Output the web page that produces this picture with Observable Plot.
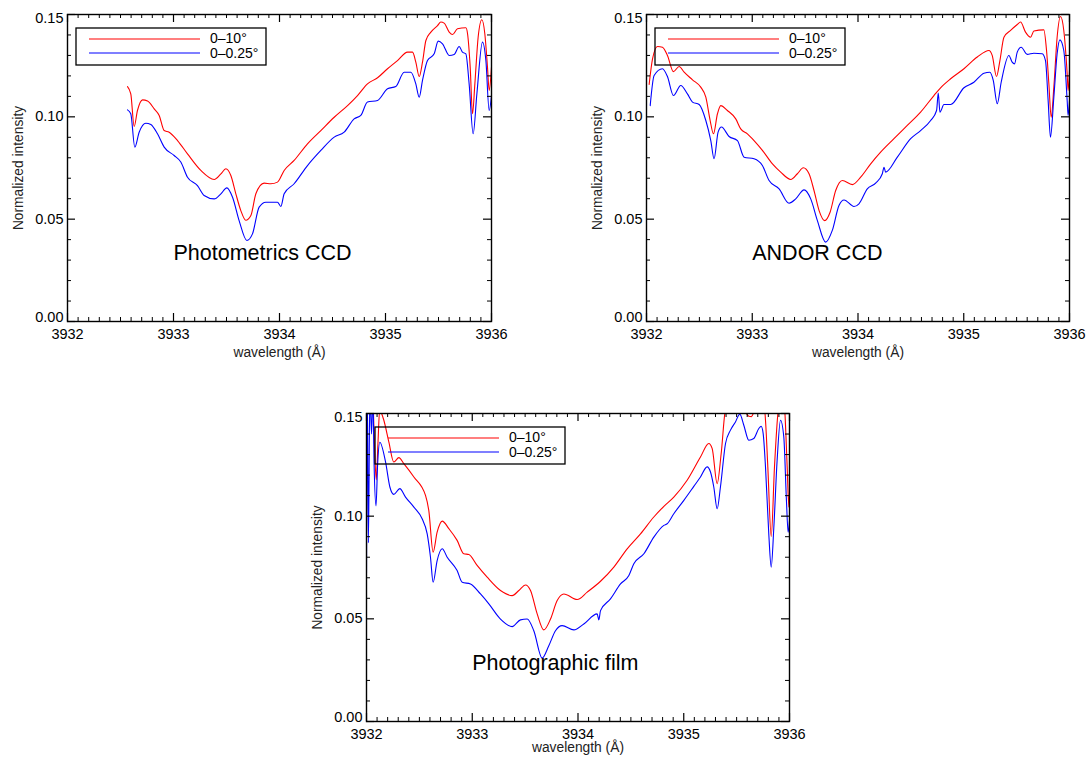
<!DOCTYPE html>
<html>
<head>
<meta charset="utf-8">
<script src="https://cdn.jsdelivr.net/npm/d3@7"></script>
<script src="https://cdn.jsdelivr.net/npm/@observablehq/plot@0.6"></script>
<style>
  html, body { margin: 0; padding: 0; background: #fff; }
  #wrap { position: relative; width: 1087px; height: 757px; background: #fff; overflow: hidden;
          font-family: "Liberation Sans", Arial, Helvetica, sans-serif; }
  .panel { position: absolute; }
  .panel svg { position: absolute; left: 0; top: 0; }
</style>
</head>
<body>
<div id="wrap"></div>
<script>
// ---------- shared labels / ticks ----------
const xTicks = [3932, 3933, 3934, 3935, 3936];
const yTicks = [0.00, 0.05, 0.10, 0.15];
const xLabel = "wavelength (Å)";
const yLabel = "Normalized intensity";
const seriesNames = ["0\u201310\u00b0", "0\u20130.25\u00b0"];
const seriesColors = ["#ff0000", "#0000ff"];
const panelNames = ["Photometrics CCD", "ANDOR CCD", "Photographic film"];
const panelLabelX = [3933.0, 3933.0, 3933.0];
const panelLabelY = [0.030, 0.030, 0.025];

// ---------- Panel 1: Photometrics CCD ----------
const photRedW = [3932.566,3932.597,3932.629,3932.660,3932.708,3932.755,3932.818,3932.865,3932.912,3932.959,3933.038,3933.132,3933.258,3933.384,3933.447,3933.494,3933.541,3933.588,3933.635,3933.682,3933.730,3933.777,3933.855,3933.918,3933.981,3934.044,3934.138,3934.264,3934.390,3934.516,3934.642,3934.736,3934.830,3934.925,3935.019,3935.113,3935.208,3935.255,3935.286,3935.318,3935.349,3935.381,3935.428,3935.491,3935.522,3935.553,3935.601,3935.632,3935.679,3935.758,3935.774,3935.799,3935.821,3935.843,3935.874,3935.909,3935.937,3935.962,3935.978,3936.000];
const photRedI = [0.1148,0.1112,0.0953,0.1031,0.1083,0.1077,0.1039,0.1007,0.0933,0.0925,0.0884,0.0819,0.0738,0.0694,0.0721,0.0746,0.0713,0.0624,0.0542,0.0495,0.0518,0.0624,0.0676,0.0673,0.0681,0.0738,0.0787,0.0868,0.0933,0.0998,0.1055,0.1104,0.1161,0.1191,0.1235,0.1275,0.1316,0.1316,0.1267,0.1197,0.1267,0.1373,0.1414,0.1446,0.1463,0.1458,0.1414,0.1402,0.1430,0.1435,0.1406,0.1243,0.1015,0.1161,0.1389,0.1474,0.1406,0.1243,0.1129,0.1243];
const photBlueW = [3932.566,3932.597,3932.635,3932.676,3932.739,3932.786,3932.849,3932.912,3933.006,3933.069,3933.132,3933.226,3933.289,3933.384,3933.447,3933.503,3933.557,3933.619,3933.692,3933.745,3933.808,3933.871,3933.981,3934.013,3934.044,3934.138,3934.264,3934.390,3934.516,3934.610,3934.704,3934.767,3934.830,3934.925,3935.019,3935.097,3935.176,3935.239,3935.286,3935.318,3935.349,3935.396,3935.459,3935.497,3935.538,3935.601,3935.648,3935.695,3935.726,3935.758,3935.789,3935.827,3935.862,3935.915,3935.947,3935.978,3936.000];
const photBlueI = [0.1034,0.1015,0.0852,0.0925,0.0969,0.0963,0.0917,0.0852,0.0811,0.0779,0.0705,0.0664,0.0616,0.0599,0.0624,0.0653,0.0607,0.0493,0.0396,0.0428,0.0559,0.0583,0.0583,0.0562,0.0624,0.0673,0.0762,0.0836,0.0901,0.0925,0.0990,0.1007,0.1072,0.1080,0.1137,0.1148,0.1218,0.1218,0.1161,0.1096,0.1178,0.1275,0.1308,0.1370,0.1357,0.1300,0.1305,0.1344,0.1316,0.1308,0.1161,0.0917,0.1112,0.1365,0.1275,0.1031,0.1104];

// ---------- Panel 2: ANDOR CCD ----------
const andorRedW = [3932.025,3932.057,3932.104,3932.151,3932.198,3932.255,3932.309,3932.356,3932.435,3932.513,3932.561,3932.602,3932.633,3932.671,3932.702,3932.765,3932.844,3932.891,3932.954,3933.017,3933.096,3933.191,3933.269,3933.364,3933.427,3933.483,3933.537,3933.584,3933.632,3933.685,3933.736,3933.789,3933.852,3933.946,3934.025,3934.120,3934.214,3934.340,3934.466,3934.592,3934.718,3934.781,3934.876,3935.002,3935.128,3935.238,3935.269,3935.310,3935.342,3935.380,3935.443,3935.506,3935.537,3935.584,3935.632,3935.663,3935.757,3935.783,3935.805,3935.827,3935.852,3935.883,3935.915,3935.946,3935.978,3935.987,3936.000];
const andorRedI = [0.1158,0.1283,0.1344,0.1340,0.1300,0.1221,0.1246,0.1218,0.1181,0.1145,0.1096,0.0982,0.0917,0.1015,0.1055,0.1031,0.0990,0.0941,0.0917,0.0884,0.0836,0.0770,0.0730,0.0694,0.0722,0.0751,0.0722,0.0640,0.0542,0.0493,0.0534,0.0640,0.0689,0.0669,0.0705,0.0770,0.0827,0.0893,0.0958,0.1023,0.1104,0.1142,0.1186,0.1235,0.1292,0.1324,0.1300,0.1197,0.1275,0.1389,0.1422,0.1451,0.1463,0.1414,0.1389,0.1419,0.1425,0.1324,0.1161,0.0998,0.1145,0.1389,0.1490,0.1422,0.1210,0.1129,0.1226];
const andorBlueW = [3932.035,3932.072,3932.151,3932.198,3932.255,3932.324,3932.387,3932.435,3932.498,3932.561,3932.608,3932.639,3932.677,3932.709,3932.781,3932.860,3932.923,3933.017,3933.096,3933.159,3933.254,3933.348,3933.411,3933.490,3933.553,3933.616,3933.694,3933.757,3933.820,3933.868,3933.962,3934.009,3934.088,3934.167,3934.230,3934.246,3934.261,3934.372,3934.498,3934.592,3934.687,3934.743,3934.759,3934.775,3934.813,3934.876,3935.002,3935.096,3935.191,3935.247,3935.279,3935.317,3935.354,3935.427,3935.458,3935.480,3935.506,3935.543,3935.600,3935.663,3935.742,3935.773,3935.798,3935.820,3935.852,3935.883,3935.909,3935.946,3935.978,3935.987,3936.000];
const andorBlueI = [0.1055,0.1202,0.1235,0.1197,0.1104,0.1153,0.1112,0.1072,0.1060,0.0982,0.0884,0.0795,0.0925,0.0950,0.0904,0.0884,0.0803,0.0795,0.0762,0.0689,0.0648,0.0578,0.0599,0.0643,0.0599,0.0493,0.0388,0.0445,0.0567,0.0594,0.0562,0.0575,0.0648,0.0676,0.0722,0.0754,0.0730,0.0803,0.0893,0.0933,0.0982,0.1031,0.1116,0.1023,0.1060,0.1060,0.1142,0.1169,0.1213,0.1218,0.1178,0.1064,0.1169,0.1300,0.1267,0.1259,0.1316,0.1340,0.1305,0.1311,0.1308,0.1275,0.1080,0.0901,0.1096,0.1308,0.1376,0.1324,0.1080,0.1007,0.1080];

// ---------- Panel 3: Photographic film ----------
const filmRedW = [3932.000,3932.060,3932.075,3932.092,3932.108,3932.125,3932.135,3932.164,3932.211,3932.258,3932.306,3932.353,3932.448,3932.558,3932.589,3932.630,3932.668,3932.716,3932.779,3932.857,3932.920,3932.968,3933.046,3933.141,3933.267,3933.377,3933.441,3933.504,3933.551,3933.614,3933.677,3933.740,3933.803,3933.866,3933.992,3934.087,3934.213,3934.339,3934.465,3934.591,3934.717,3934.812,3934.906,3935.032,3935.158,3935.237,3935.269,3935.316,3935.354,3935.395,3935.450,3935.520,3935.580,3935.615,3935.640,3935.665,3935.700,3935.760,3935.773,3935.795,3935.827,3935.858,3935.890,3935.920,3935.950,3935.978,3935.994,3936.000];
const filmRedI = [0.158,0.156,0.135,0.1177,0.135,0.152,0.151,0.1467,0.1362,0.1264,0.1285,0.1256,0.1191,0.1101,0.1028,0.0825,0.0922,0.0976,0.0939,0.0882,0.0817,0.0813,0.0760,0.0703,0.0638,0.0613,0.0638,0.0665,0.0638,0.0524,0.0446,0.0499,0.0589,0.0621,0.0594,0.0630,0.0683,0.0752,0.0841,0.0914,0.0996,0.1048,0.1093,0.1175,0.1288,0.1354,0.1329,0.1158,0.1305,0.1520,0.1560,0.1580,0.1510,0.1487,0.1485,0.1510,0.1550,0.1540,0.1467,0.1240,0.0901,0.1240,0.1500,0.1600,0.1550,0.1240,0.1044,0.1109];
const filmBlueW = [3932.000,3932.008,3932.018,3932.032,3932.048,3932.060,3932.072,3932.090,3932.105,3932.126,3932.180,3932.221,3932.258,3932.315,3932.369,3932.448,3932.526,3932.574,3932.605,3932.630,3932.668,3932.716,3932.763,3932.857,3932.905,3932.983,3933.078,3933.157,3933.267,3933.377,3933.456,3933.519,3933.582,3933.661,3933.724,3933.787,3933.850,3933.961,3934.055,3934.181,3934.197,3934.213,3934.307,3934.402,3934.481,3934.528,3934.623,3934.717,3934.812,3934.843,3934.906,3935.001,3935.095,3935.158,3935.221,3935.253,3935.284,3935.316,3935.347,3935.395,3935.442,3935.489,3935.530,3935.568,3935.615,3935.662,3935.710,3935.732,3935.751,3935.773,3935.804,3935.827,3935.852,3935.883,3935.915,3935.946,3935.971,3935.987,3936.000];
const filmBlueI = [0.072,0.160,0.087,0.160,0.140,0.160,0.125,0.1050,0.125,0.1360,0.1264,0.1142,0.1106,0.1134,0.1093,0.1044,0.0987,0.0914,0.0800,0.0678,0.0784,0.0841,0.0800,0.0735,0.0678,0.0670,0.0621,0.0573,0.0499,0.0462,0.0495,0.0499,0.0442,0.0309,0.0369,0.0442,0.0467,0.0446,0.0475,0.0524,0.0495,0.0540,0.0597,0.0670,0.0711,0.0768,0.0817,0.0898,0.0955,0.0963,0.1012,0.1077,0.1145,0.1191,0.1240,0.1215,0.1142,0.1036,0.1142,0.1354,0.1419,0.1459,0.1497,0.1443,0.1370,0.1378,0.1427,0.1438,0.1402,0.1240,0.0914,0.0752,0.0947,0.1272,0.1467,0.1386,0.1077,0.0922,0.0979];

// ---------- build ----------
const zip = (w, v) => w.map((d, i) => ({w: d, v: v[i]}));
const panels = [
  {left: 0,   top: 0,   width: 510, height: 365, mL: 67, mT: 14, mR: 19, mB: 44, xLabelDy: 31,
   series: [zip(photRedW, photRedI), zip(photBlueW, photBlueI)]},
  {left: 580, top: 0,   width: 507, height: 365, mL: 66, mT: 14, mR: 18, mB: 44, xLabelDy: 31,
   series: [zip(andorRedW, andorRedI), zip(andorBlueW, andorBlueI)]},
  {left: 300, top: 399, width: 500, height: 358, mL: 66, mT: 14, mR: 11, mB: 36, xLabelDy: 26,
   series: [zip(filmRedW, filmRedI), zip(filmBlueW, filmBlueI)]}
];

const FONT = '"Liberation Sans", Arial, Helvetica, sans-serif';
const xMinor = d3.range(1, 40).map(i => 3932 + i / 10).filter((d, i) => (i + 1) % 10 !== 0);
const yMinor = d3.range(1, 15).filter(i => i % 5 !== 0).map(i => i / 100);
const fmtY = d3.format(".2f");

const wrap = document.getElementById("wrap");

panels.forEach((p, k) => {
  const W = p.width - p.mL - p.mR;
  const H = p.height - p.mT - p.mB;
  const div = document.createElement("div");
  div.className = "panel";
  Object.assign(div.style, {left: p.left + "px", top: p.top + "px", width: p.width + "px", height: p.height + "px"});
  wrap.appendChild(div);

  const major = 8, minor = 4;
  const tickLabelStyle = {tickSize: 0, label: null, fontSize: 14.5, fontWeight: 500};
  const chart = Plot.plot({
    width: p.width, height: p.height,
    marginLeft: p.mL, marginTop: p.mT, marginRight: p.mR, marginBottom: p.mB,
    x: {domain: [3932, 3936]},
    y: {domain: [0, 0.15]},
    style: {fontFamily: FONT, fontSize: "14px", color: "#000", background: "transparent", overflow: "visible"},
    marks: [
      ...p.series.map((s, j) => Plot.line(s, {x: "w", y: "v", stroke: seriesColors[j], strokeWidth: 1.1, curve: "monotone-x", clip: true})),
      Plot.frame({stroke: "#000", strokeWidth: 1.4}),
      // inward ticks: bottom / top
      Plot.tickX(xTicks, {x: d => d, insetTop: H - major, stroke: "#000", strokeWidth: 1.2}),
      Plot.tickX(xTicks, {x: d => d, insetBottom: H - major, stroke: "#000", strokeWidth: 1.2}),
      Plot.tickX(xMinor, {x: d => d, insetTop: H - minor, stroke: "#000", strokeWidth: 1}),
      Plot.tickX(xMinor, {x: d => d, insetBottom: H - minor, stroke: "#000", strokeWidth: 1}),
      // inward ticks: left / right
      Plot.tickY(yTicks, {y: d => d, insetRight: W - major, stroke: "#000", strokeWidth: 1.2}),
      Plot.tickY(yTicks, {y: d => d, insetLeft: W - major, stroke: "#000", strokeWidth: 1.2}),
      Plot.tickY(yMinor, {y: d => d, insetRight: W - minor, stroke: "#000", strokeWidth: 1}),
      Plot.tickY(yMinor, {y: d => d, insetLeft: W - minor, stroke: "#000", strokeWidth: 1}),
      // tick labels
      Plot.axisX({ticks: xTicks, tickPadding: 7, tickFormat: d => String(d), ...tickLabelStyle}),
      Plot.axisY({ticks: yTicks.slice(1, 3), tickPadding: 4, tickFormat: fmtY, ...tickLabelStyle}),
      Plot.axisY({ticks: [yTicks[3]], tickPadding: 4, tickFormat: fmtY, dy: 4, ...tickLabelStyle}),
      Plot.axisY({ticks: [yTicks[0]], tickPadding: 4, tickFormat: fmtY, dy: -4, ...tickLabelStyle}),
      // axis titles
      Plot.text([xLabel], {frameAnchor: "bottom", dy: p.xLabelDy, text: d => d, fontSize: 13.8, fill: "#222", textAnchor: "middle", lineAnchor: "middle"}),
      Plot.text([yLabel], {frameAnchor: "left", dx: -49, rotate: -90, text: d => d, fontSize: 13.8, fill: "#222", textAnchor: "middle", lineAnchor: "middle"}),
      // panel label
      Plot.text([panelNames[k]], {x: panelLabelX[k], y: panelLabelY[k], text: d => d, textAnchor: "start", lineAnchor: "bottom", fontSize: 21.5, fill: "#000"})
    ]
  });
  div.appendChild(chart);

  // legend box (inside plot, top-left)
  const lg = d3.create("svg")
    .attr("width", 194).attr("height", 41)
    .style("position", "absolute")
    .style("left", (p.mL + 9 - 2) + "px")
    .style("top", (p.mT + 14 - 2) + "px")
    .style("overflow", "visible");
  lg.append("rect").attr("x", 2).attr("y", 2).attr("width", 190).attr("height", 37)
    .attr("fill", "none").attr("stroke", "#000").attr("stroke-width", 1.3);
  seriesNames.forEach((name, j) => {
    const yy = 2 + 11 + j * 14;
    lg.append("line").attr("x1", 2 + 13).attr("x2", 2 + 124).attr("y1", yy).attr("y2", yy)
      .attr("stroke", seriesColors[j]).attr("stroke-width", 1.1);
    lg.append("text").attr("x", 2 + 134).attr("y", 2 + 15 + j * 15)
      .attr("font-family", FONT).attr("font-size", 14).attr("fill", "#000").text(name);
  });
  div.appendChild(lg.node());
});
</script>
</body>
</html>
